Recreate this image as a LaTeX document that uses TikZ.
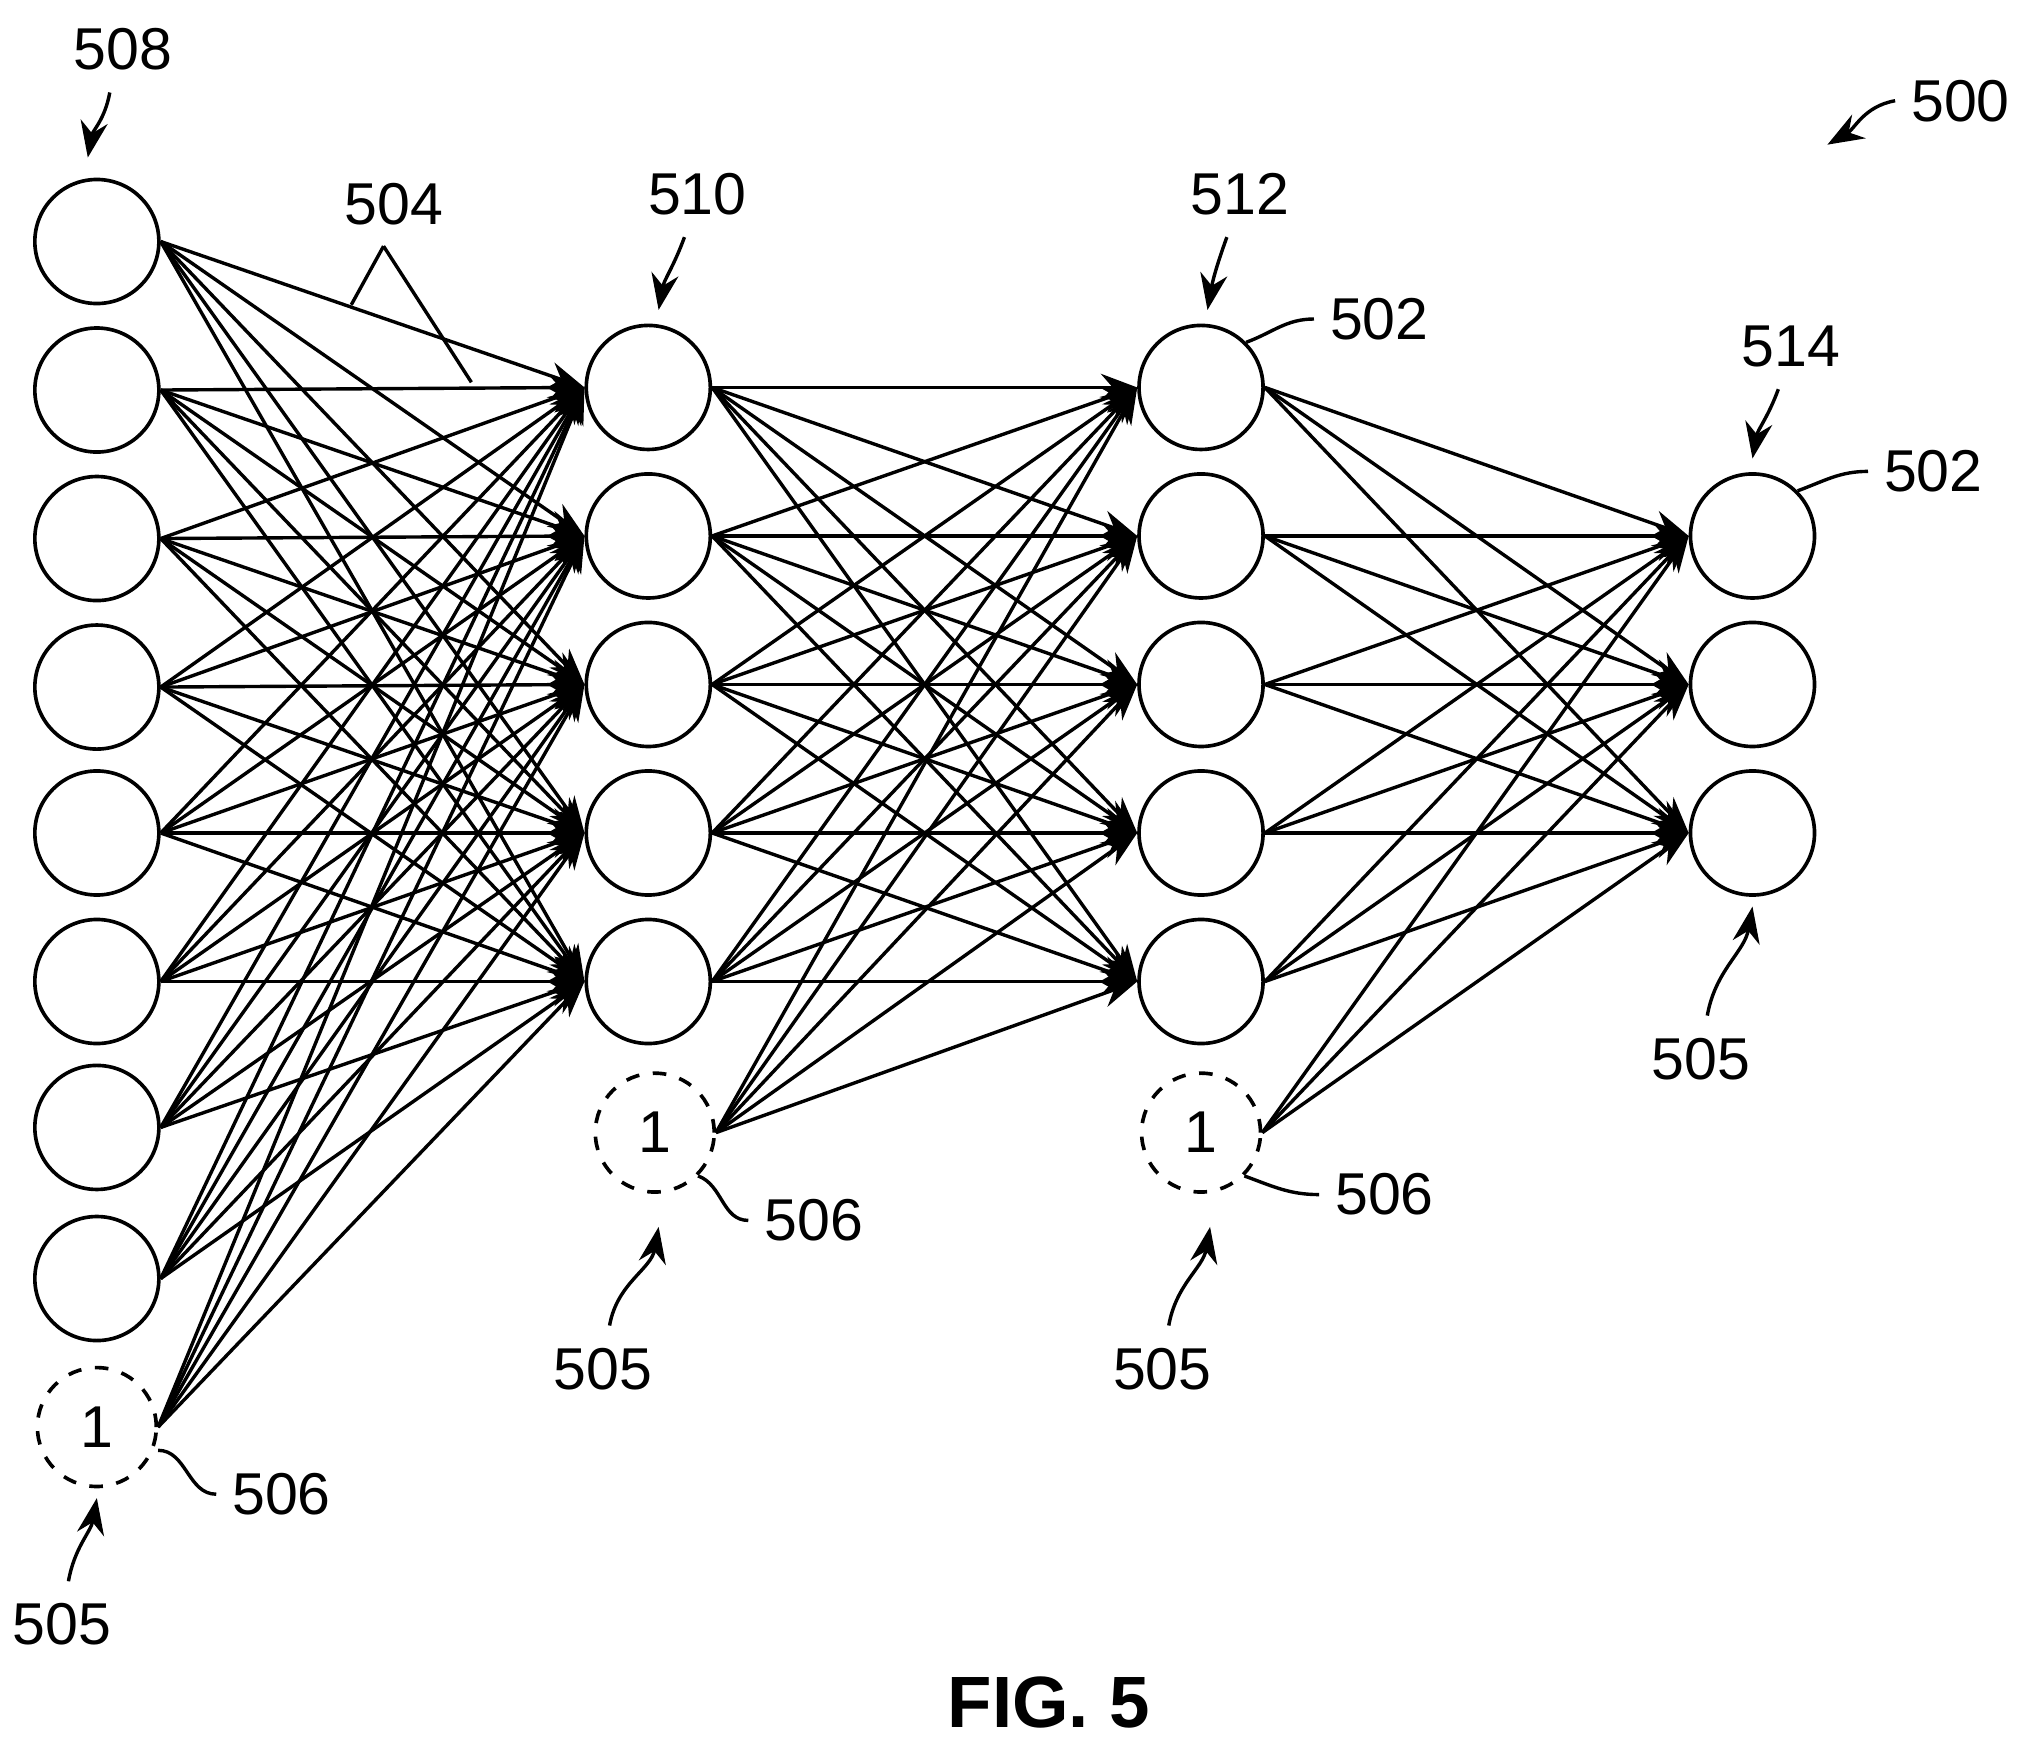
\documentclass[tikz,border=0pt]{standalone}
\usepackage{fontspec}
\setmainfont{Liberation Sans}
\usetikzlibrary{arrows.meta}
\begin{document}
\begin{tikzpicture}[x=0.01cm,y=-0.01cm,
  neuron/.style={circle,draw,line width=0.8pt,minimum size=0.96cm,inner sep=0pt},
  bias/.style={neuron,dashed,minimum size=0.92cm,font=\fontsize{13}{15}\selectfont},
  edge/.style={line width=0.75pt,-{Stealth[length=8pt,width=6pt]}},
  lab/.style={font=\fontsize{13}{15}\selectfont},
  ptr/.style={line width=0.75pt,-{Stealth[length=8pt,width=6pt]}},
  lead/.style={line width=0.75pt}]
\useasboundingbox (0,0) rectangle (1568,1351);
\foreach \y [count=\i] in {187,302,417,532,645,760,873,990}
  \node[neuron] (a\i) at (75,\y) {};
\node[bias] (ab) at (75,1105) {1};
\foreach \y [count=\i] in {300,415,530,645,760}{
  \node[neuron] (b\i) at (502,\y) {};
  \node[neuron] (c\i) at (930,\y) {};}
\node[bias] (bb) at (507,877) {1};
\node[bias] (cb) at (930,877) {1};
\foreach \y [count=\i] in {415,530,645}
  \node[neuron] (d\i) at (1357,\y) {};
\foreach \s in {a1,a2,a3,a4,a5,a6,a7,a8,ab}
  \foreach \t in {1,...,5} \draw[edge] (\s.east) -- (b\t.west);
\foreach \s in {b1,b2,b3,b4,b5,bb}
  \foreach \t in {1,...,5} \draw[edge] (\s.east) -- (c\t.west);
\foreach \s in {c1,c2,c3,c4,c5,cb}
  \foreach \t in {1,...,3} \draw[edge] (\s.east) -- (d\t.west);
% labels
\node[lab] (l508) at (95,38) {508};
\coordinate (p508) at (68,122);
\draw[ptr] (l508.south) ++(-10,5) to[out=260,in=80] (p508);
\node[lab] (l504) at (305,158) {504};
\coordinate (q1) at (272,236); \coordinate (q2) at (365,296);
\draw[lead] (l504.south) ++(-8,4) -- (q1);
\draw[lead] (l504.south) ++(-8,4) -- (q2);
\node[lab] (l510) at (540,150) {510};
\coordinate (p510) at (510,240);
\draw[ptr] (l510.south) ++(-10,5) to[out=250,in=80] (p510);
\node[lab] (l512) at (960,150) {512};
\coordinate (p512) at (935,240);
\draw[ptr] (l512.south) ++(-10,5) to[out=250,in=80] (p512);
\node[lab] (l502a) at (1068,247) {502};
\draw[lead] (c1.north east) to[out=20,in=180] (l502a.west);
\node[lab] (l514) at (1387,268) {514};
\coordinate (p514) at (1357,355);
\draw[ptr] (l514.south) ++(-10,5) to[out=250,in=80] (p514);
\node[lab] (l502b) at (1497,365) {502};
\draw[lead] (d1.north east) to[out=20,in=180] (l502b.west);
\node[lab] (l500) at (1518,78) {500};
\coordinate (p500) at (1415,112);
\draw[ptr] (l500.west) to[out=190,in=30] (p500);
\node[lab] (l505a) at (48,1258) {505};
\coordinate (p505a) at (75,1160);
\draw[ptr] (l505a.north) ++(5,-5) to[out=80,in=260] (p505a);
\node[lab] (l505b) at (467,1060) {505};
\coordinate (p505b) at (510,950);
\draw[ptr] (l505b.north) ++(5,-5) to[out=80,in=260] (p505b);
\node[lab] (l505c) at (900,1060) {505};
\coordinate (p505c) at (937,950);
\draw[ptr] (l505c.north) ++(5,-5) to[out=80,in=260] (p505c);
\node[lab] (l505d) at (1317,820) {505};
\coordinate (p505d) at (1357,702);
\draw[ptr] (l505d.north) ++(5,-5) to[out=80,in=260] (p505d);
\node[lab] (l506a) at (218,1157) {506};
\draw[lead] (ab.east) ++(0,18) to[out=0,in=180] (l506a.west);
\node[lab] (l506b) at (630,945) {506};
\draw[lead] (bb.south east) to[out=-20,in=180] (l506b.west);
\node[lab] (l506c) at (1072,925) {506};
\draw[lead] (cb.south east) to[out=-20,in=180] (l506c.west);
\node[font=\fontsize{16}{19}\selectfont\bfseries] (fig) at (812,1318) {FIG. 5};
\end{tikzpicture}
\end{document}
